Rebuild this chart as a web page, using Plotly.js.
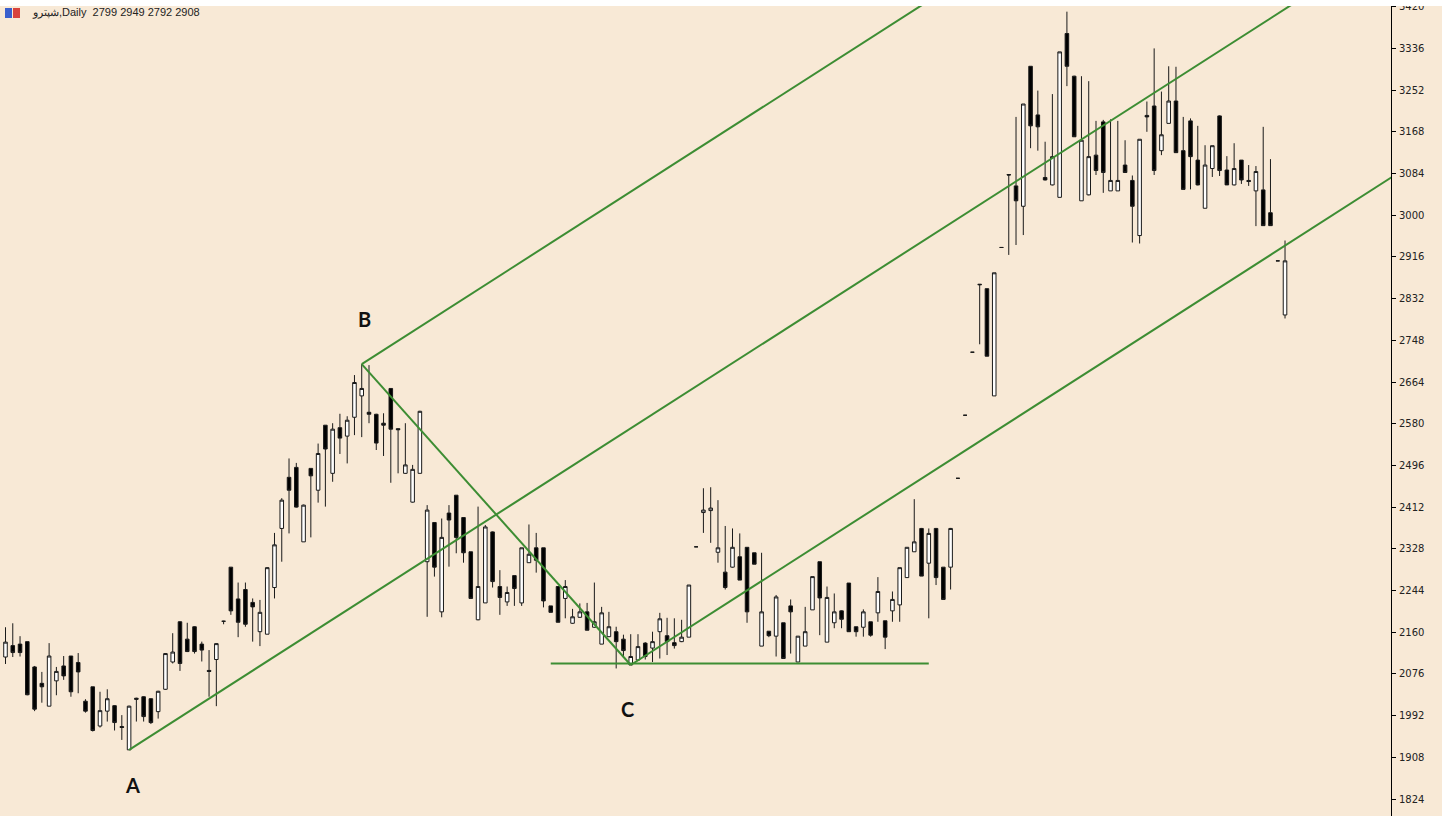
<!DOCTYPE html>
<html>
<head>
<meta charset="utf-8">
<script src="https://cdn.plot.ly/plotly-3.0.1.min.js"></script>
<style>html,body{margin:0;padding:0;background:#fff;}#chart{width:1450px;height:816px;}</style>
</head>
<body>
<div id="chart"></div>
<script>
// ---- Data (daily candles) ----
const symbol = "شپترو";
const period = "Daily";
const openPrices = [2110,2133,2136,2141,2090,2057,2011,2062,2092,2112,
2099,2021,2050,1971,2001,2012,1970,1923,2027,2030,
2026,2000,2045,2100,2181,2146,2171,2136,2083,2105,
2182,2291,2227,2246,2220,2161,2156,2250,2369,2472,
2492,2342,2490,2446,2577,2480,2572,2555,2593,2636,
2603,2599,2581,2651,2570,2480,2422,2480,2302,2381,
2201,2400,2436,2391,2322,2185,2219,2362,2252,2221,
2274,2219,2300,2330,2330,2213,2252,2228,2178,2190,
2201,2170,2136,2151,2161,2146,2094,2104,2138,2128,
2161,2153,2139,2141,2150,2332,2401,2405,2321,2281,
2291,2312,2331,2320,2132,2162,2152,2179,2213,2100,
2132,2205,2302,2140,2179,2203,2259,2171,2170,2181,
2199,2183,2203,2215,2270,2322,2369,2299,2369,2291,
2291,2470,2597,2724,2861,2852,2636,2935,3082,3059,
3018,3300,3202,3076,3061,3036,3366,3280,3029,3041,
3121,3188,3049,3049,3101,3070,2959,3201,3220,3130,
3185,3230,3130,3190,3111,3014,3094,3200,3091,3061,
3111,3070,3049,3051,3005,2908,2799];
const highPrices = [2170,2178,2152,2141,2092,2080,2138,2090,2112,2112,
2118,2025,2050,2040,2045,2013,1993,2012,2028,2031,
2027,2042,2118,2158,2182,2179,2172,2141,2124,2138,
2183,2291,2260,2260,2228,2225,2291,2360,2430,2510,
2501,2417,2490,2540,2577,2581,2600,2595,2678,2700,
2698,2600,2601,2651,2570,2581,2497,2606,2416,2381,
2389,2416,2436,2391,2322,2413,2376,2363,2285,2252,
2274,2330,2377,2360,2330,2213,2252,2265,2207,2218,
2219,2260,2211,2201,2171,2155,2156,2156,2140,2161,
2199,2189,2188,2185,2255,2332,2450,2452,2426,2374,
2369,2359,2331,2320,2320,2162,2235,2179,2226,2152,
2211,2272,2302,2252,2238,2204,2259,2171,2206,2181,
2271,2183,2242,2290,2331,2428,2370,2369,2370,2291,
2370,2470,2597,2724,2861,2852,2884,2935,3082,3198,
3224,3300,3251,3148,3244,3329,3410,3281,3280,3270,
3190,3192,3193,3190,3151,3080,3153,3229,3336,3249,
3300,3299,3198,3195,3180,3141,3140,3201,3119,3145,
3111,3101,3099,3178,3113,2908,2949];
const lowPrices = [2096,2110,2111,2033,2001,2018,2011,2033,2064,2030,
2037,1998,1960,1968,1980,1962,1943,1923,1980,1980,
1975,1986,2044,2097,2082,2120,2117,2101,2030,2011,
2176,2195,2150,2171,2141,2132,2156,2228,2302,2359,
2411,2342,2351,2421,2413,2463,2519,2500,2557,2553,
2581,2527,2515,2461,2480,2479,2421,2480,2191,2272,
2190,2292,2319,2300,2228,2184,2219,2250,2195,2213,
2213,2213,2300,2280,2210,2200,2180,2188,2177,2189,
2164,2169,2136,2150,2087,2111,2094,2104,2105,2100,
2107,2114,2127,2140,2150,2332,2360,2340,2300,2246,
2290,2265,2179,2297,2132,2150,2111,2107,2117,2100,
2132,2205,2154,2140,2168,2168,2161,2151,2151,2151,
2181,2126,2181,2181,2270,2322,2273,2188,2255,2226,
2246,2470,2597,2724,2740,2716,2636,2935,2920,2940,
2960,3135,3130,3070,3060,3036,3260,3158,3029,3040,
3081,3045,3049,3049,3085,2945,2943,3168,3081,3121,
3185,3126,3052,3052,3060,3014,3077,3079,3061,3060,
3063,3059,2978,2979,2979,2908,2792];
const closePrices = [2140,2119,2119,2034,2005,2050,2112,2081,2072,2040,
2080,2001,1962,2002,2026,1978,1968,2011,2025,1990,
1978,2041,2117,2120,2097,2121,2121,2124,2081,2137,
2182,2203,2180,2176,2211,2200,2290,2336,2426,2446,
2412,2416,2475,2520,2529,2569,2551,2587,2663,2651,
2599,2541,2577,2569,2568,2497,2488,2605,2406,2291,
2351,2386,2351,2320,2228,2252,2372,2262,2230,2240,
2248,2330,2317,2305,2223,2200,2180,2252,2191,2201,
2164,2181,2199,2171,2141,2123,2111,2131,2111,2141,
2187,2141,2133,2150,2255,2332,2406,2410,2330,2250,
2331,2265,2201,2297,2201,2153,2231,2107,2201,2152,
2161,2272,2229,2230,2201,2186,2161,2161,2201,2154,
2242,2150,2226,2290,2331,2342,2273,2359,2270,2226,
2369,2470,2597,2724,2860,2716,2884,2935,3081,3029,
3224,3180,3178,3071,3118,3329,3300,3158,3151,3118,
3090,3086,3070,3070,3086,3018,3153,3198,3090,3162,
3230,3126,3052,3118,3061,3101,3140,3090,3061,3094,
3071,3068,3088,2979,2979,2908,2908];
const yTickVals = [1824,1908,1992,2076,2160,2244,2328,2412,2496,2580,2664,2748,2832,2916,3000,3084,3168,3252,3336,3420];
// Pitchfork pivots (candle indices): A = low, B = high, C = low
const pivotA = 17, pivotB = 49, pivotC = 86;
const pivotLabels = ["A", "B", "C"];
// Horizontal support drawn at pivot C, spanning these candle indices
const supportFrom = 75, supportTo = 127;

// ---- Build ----
const idx = openPrices.map((_, i) => i);
const n = idx.length;
const last = n - 1;
const A = {x: pivotA, y: lowPrices[pivotA]};
const B = {x: pivotB, y: highPrices[pivotB]};
const C = {x: pivotC, y: lowPrices[pivotC]};
const M = {x: (B.x + C.x) / 2, y: (B.y + C.y) / 2};
const slope = (M.y - A.y) / (M.x - A.x);
const far = 240;
const green = '#3d8d33';

function ray(p) {
  return {type: 'scatter', mode: 'lines', x: [p.x, far], y: [p.y, p.y + slope * (far - p.x)],
          line: {color: green, width: 2}, hoverinfo: 'skip', showlegend: false};
}

const traces = [
  ray(A), ray(B), ray(C),
  {type: 'scatter', mode: 'lines', x: [B.x, C.x], y: [B.y, C.y], line: {color: green, width: 2}, hoverinfo: 'skip', showlegend: false},
  {type: 'scatter', mode: 'lines', x: [supportFrom, supportTo], y: [C.y + 3, C.y + 3], line: {color: green, width: 2}, hoverinfo: 'skip', showlegend: false},
  {
    type: 'candlestick', x: idx, open: openPrices, high: highPrices, low: lowPrices, close: closePrices,
    increasing: {line: {color: '#1a1a1a', width: 1}, fillcolor: '#ffffff'},
    decreasing: {line: {color: '#1a1a1a', width: 1}, fillcolor: '#000000'},
    whiskerwidth: 0, hoverinfo: 'skip', showlegend: false
  }
];

const W = 1450, H = 816, mr = 59, mt = 6;
const plotW = W - mr, plotH = H - mt;
const bg = '#f8e9d6';

const header = symbol + "," + period + "  " + openPrices[last] + " " + highPrices[last] + " " + lowPrices[last] + " " + closePrices[last];

const annotations = [
  {xref: 'paper', yref: 'paper', x: 30 / plotW, y: 1 - (12 - mt) / plotH, xanchor: 'left', yanchor: 'middle',
   text: header, showarrow: false, font: {family: 'Liberation Sans, Arial, sans-serif', size: 11, color: '#222'}},
  {x: A.x, y: A.y, text: '<b>' + pivotLabels[0] + '</b>', showarrow: false, xshift: 3, yshift: -35,
   font: {family: 'Lato, sans-serif', size: 20, color: '#111'}},
  {x: B.x, y: B.y, text: '<b>' + pivotLabels[1] + '</b>', showarrow: false, xshift: 3, yshift: 45,
   font: {family: 'Lato, sans-serif', size: 20, color: '#111'}},
  {x: C.x, y: C.y, text: '<b>' + pivotLabels[2] + '</b>', showarrow: false, xshift: -3, yshift: -44,
   font: {family: 'Lato, sans-serif', size: 20, color: '#111'}}
];

const shapes = [
  // white strip on top and right edge of the window
  {type: 'rect', xref: 'paper', yref: 'paper', x0: -0.01, x1: W / plotW + 0.01, y0: 1, y1: 1 + mt / plotH + 0.01, fillcolor: '#ffffff', line: {width: 0}, layer: 'above'},
  {type: 'rect', xref: 'paper', yref: 'paper', x0: 1442 / plotW, x1: W / plotW + 0.01, y0: -0.01, y1: 1.02, fillcolor: '#ffffff', line: {width: 0}, layer: 'above'},
  // small app icon
  {type: 'rect', xref: 'paper', yref: 'paper', x0: 5 / plotW, x1: 12 / plotW, y0: 1 - (18 - mt) / plotH, y1: 1 - (8 - mt) / plotH, fillcolor: '#3a5fcd', line: {width: 0}, layer: 'above'},
  {type: 'rect', xref: 'paper', yref: 'paper', x0: 13 / plotW, x1: 20 / plotW, y0: 1 - (18 - mt) / plotH, y1: 1 - (8 - mt) / plotH, fillcolor: '#d9423c', line: {width: 0}, layer: 'above'}
];

const pxPerIdx = 7.27;
const x0px = 5.5;
const valPerPx = 2.0144;
const yTopVal = 1824 + (799 - mt) * valPerPx;
const yBotVal = 1824 - (H - 799) * valPerPx;

const layout = {
  width: W, height: H,
  margin: {l: 0, r: mr, t: mt, b: 0, pad: 0},
  paper_bgcolor: bg, plot_bgcolor: bg,
  showlegend: false, hovermode: false,
  xaxis: {range: [-x0px / pxPerIdx, (plotW - x0px) / pxPerIdx], visible: false, showgrid: false, zeroline: false,
          rangeslider: {visible: false}, fixedrange: true},
  yaxis: {range: [yBotVal, yTopVal], side: 'right', tickmode: 'array', tickvals: yTickVals,
          ticks: 'outside', ticklen: 4, tickcolor: '#000', tickwidth: 1,
          showline: true, linecolor: '#000', linewidth: 1, showgrid: false, zeroline: false,
          tickfont: {family: 'DejaVu Sans, sans-serif', size: 10, color: '#222'}, ticklabelstandoff: 1, fixedrange: true},
  annotations: annotations,
  shapes: shapes
};

Plotly.newPlot('chart', traces, layout, {displayModeBar: false, staticPlot: true});
</script>
</body>
</html>
